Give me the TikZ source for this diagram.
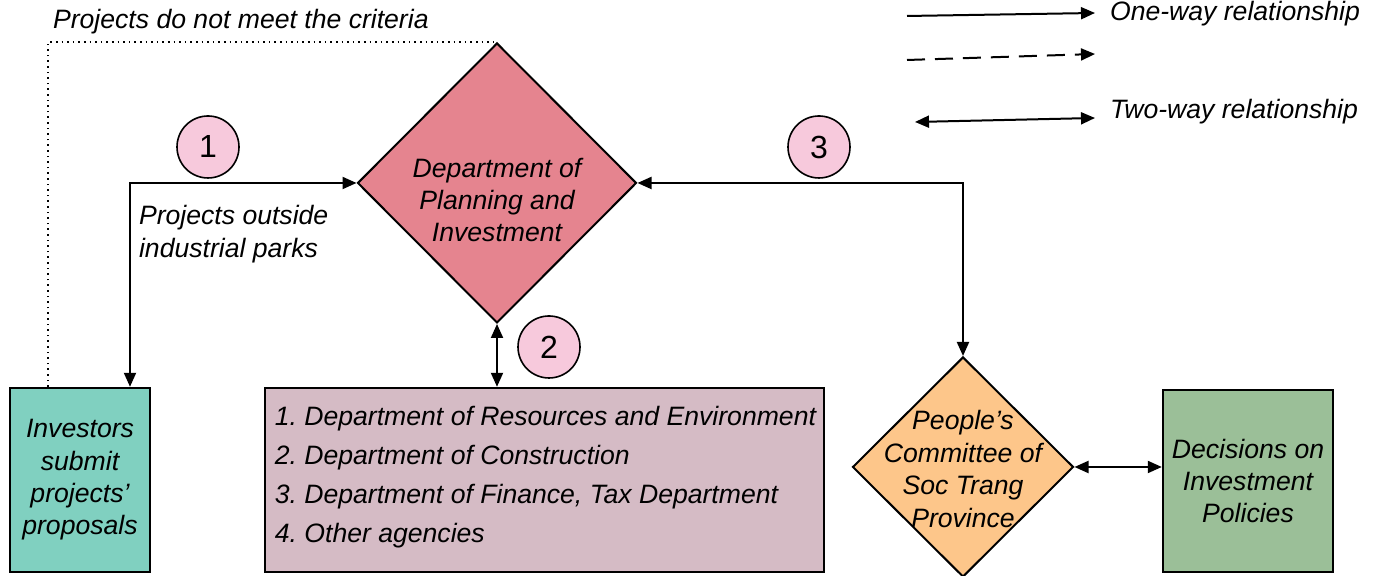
\documentclass[tikz,border=0pt]{standalone}
\usepackage{fontspec}
\setmainfont{Liberation Sans}
\usetikzlibrary{shapes.geometric,arrows.meta}
\frenchspacing

\definecolor{dpired}{HTML}{E5848F}
\definecolor{invteal}{HTML}{80D0C0}
\definecolor{agcmauve}{HTML}{D5BBC5}
\definecolor{pcorange}{HTML}{FDC68A}
\definecolor{decgreen}{HTML}{9BBF98}
\definecolor{badgepink}{HTML}{F7C9DC}

\tikzset{
  every node/.style={font=\itshape\fontsize{13.3pt}{16.2pt}\selectfont},
  box/.style={draw, line width=1.2pt, inner sep=0pt, align=center},
  dept/.style={draw, line width=1pt, diamond, inner sep=0pt},
  badge/.style={draw, circle, fill=badgepink, line width=0.8pt, minimum size=31pt, inner sep=0pt,
    font=\fontsize{16pt}{19pt}\selectfont},
  oneway/.style={line width=1pt, -{Triangle[length=7pt,width=6pt]}},
  twoway/.style={line width=1pt, {Triangle[length=7pt,width=6pt]}-{Triangle[length=7pt,width=6pt]}}
}

\begin{document}
\begin{tikzpicture}[x=0.5pt,y=0.5pt]
  \useasboundingbox (0,0) rectangle (1377,576);

  % main departments
  \node[dept, fill=dpired, minimum width=139.5pt, minimum height=140pt,
        label={[align=center, yshift=-8.5pt]center:Department of\\Planning and\\Investment}]
        (dpi) at (497,393) {};
  \node[dept, fill=pcorange, minimum width=110.5pt, minimum height=110pt,
        label={[align=center, yshift=-1pt]center:People’s\\Committee of\\Soc Trang\\Province}]
        (pc) at (963,109) {};

  % boxes along the bottom
  \node[box, fill=invteal, minimum width=70pt, minimum height=92pt] (inv) at (80,96)
        {Investors\\submit\\projects’\\proposals};
  \node[box, fill=agcmauve, minimum width=279.5pt, minimum height=92pt] (agc) at (544.5,96) {};
  \node[anchor=north west, align=left, font=\itshape\fontsize{13.3pt}{19.5pt}\selectfont]
        (agclist) at ([xshift=2pt,yshift=-6pt]agc.north west)
        {1. Department of Resources and Environment\\
         2. Department of Construction\\
         3. Department of Finance, Tax Department\\
         4. Other agencies};
  \node[box, fill=decgreen, minimum width=85pt, minimum height=91pt] (dec) at (1248,95)
        {Decisions on\\Investment\\Policies};

  % connections
  \draw[twoway] ([xshift=25pt]inv.north) |- (dpi.west);
  \draw[twoway] (dpi.east) -| (pc.north);
  \draw[twoway] (dpi.south) -- (dpi.south |- agc.north);
  \draw[twoway] (pc.east) -- (pc.east -| dec.west);
  \draw[dotted, line width=0.8pt] ([xshift=-16pt]inv.north) |- (dpi.north);

  % step numbers
  \node[badge] (s1) at (208,429) {1};
  \node[badge] (s2) at (549,229) {2};
  \node[badge] (s3) at (819,429) {3};

  \node[anchor=west] (reject) at (46,554) {Projects do not meet the criteria};
  \node[anchor=west, align=left] (outside) at (132,342) {Projects outside\\industrial parks};

  % legend
  \coordinate (l1a) at (907,560);  \coordinate (l1b) at (1095,563);
  \coordinate (l2a) at (907,516);  \coordinate (l2b) at (1095,522);
  \coordinate (l3a) at (915,454);  \coordinate (l3b) at (1095,458);
  \draw[oneway] (l1a) -- (l1b);
  \draw[oneway, dash pattern=on 9pt off 5pt] (l2a) -- (l2b);
  \draw[twoway] (l3a) -- (l3b);
  \node[anchor=west] (oneway) at (1103,562) {One-way relationship};
  \node[anchor=west] (twoway) at (1103,464) {Two-way relationship};
\end{tikzpicture}
\end{document}
